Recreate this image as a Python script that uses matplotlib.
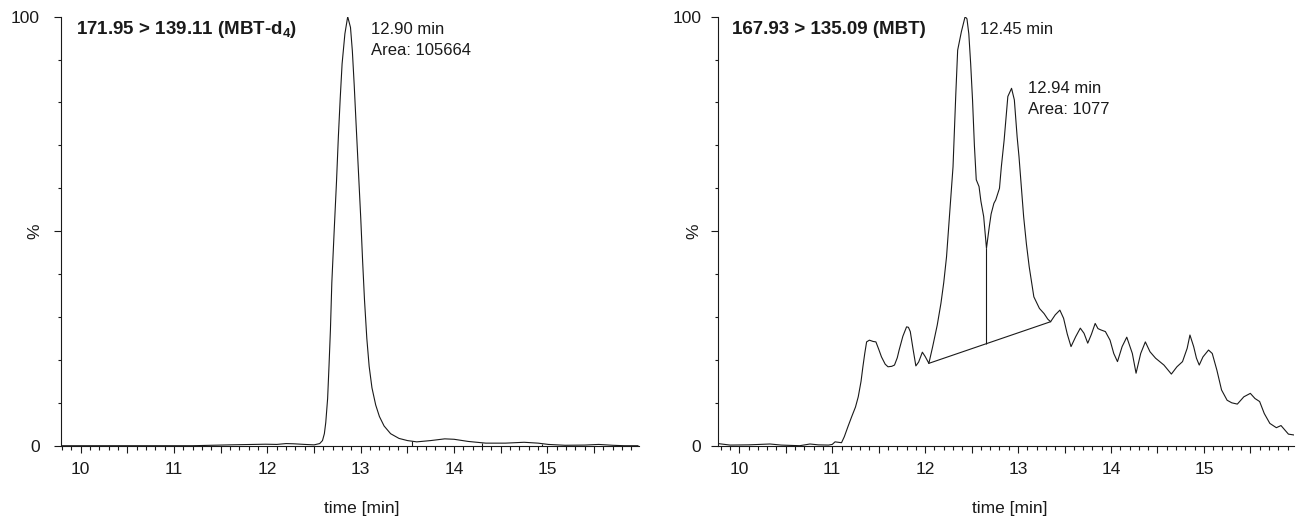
import numpy as np
import matplotlib
matplotlib.use("Agg")
import matplotlib.pyplot as plt
from matplotlib.ticker import MultipleLocator, FixedLocator, FuncFormatter

# =========================
# 0) DADOS (lidos do cromatograma)
# =========================

# MBT-d4 (171.95 > 139.11)
t_mbtd4 = [9.78, 10.5, 11.2, 11.6, 11.98, 12.1, 12.2, 12.28, 12.4, 12.5,
           12.56, 12.59, 12.61, 12.625, 12.645, 12.66, 12.675, 12.69, 12.715, 12.74,
           12.76, 12.78, 12.80, 12.83, 12.86, 12.89, 12.91, 12.93, 12.95, 12.975,
           13.0, 13.02, 13.04, 13.065, 13.09, 13.12, 13.16, 13.20, 13.25, 13.32,
           13.41, 13.5, 13.6, 13.75, 13.9, 14.0, 14.15, 14.34, 14.55, 14.75,
           14.9, 15.01, 15.19, 15.4, 15.55, 15.7, 15.82, 15.97]
v_mbtd4 = [0.0, 0.0, 0.0, 0.2, 0.35, 0.3, 0.5, 0.45, 0.3, 0.2,
           0.5, 1.2, 2.8, 5.4, 11, 18.7, 27, 38, 50, 61.5,
           72, 81, 89, 96, 100, 97.5, 92, 84, 75, 64,
           53, 43, 34, 25, 18.5, 13.5, 9.5, 6.8, 4.6, 2.8,
           1.7, 1.2, 0.9, 1.2, 1.6, 1.5, 1.0, 0.6, 0.6, 0.8,
           0.6, 0.3, 0.1, 0.15, 0.3, 0.1, 0.0, 0.0]

# marcas de integração (MBT-d4)
marcas_t_mbtd4 = [13.55, 14.30, 14.94]
marcas_v_mbtd4 = [1.1, 0.7, 0.5]

# MBT (167.93 > 135.09)
t_mbt = [9.77, 9.9, 10.1, 10.33, 10.45, 10.65, 10.76, 10.85, 10.96, 11.0,
         11.03, 11.07, 11.10, 11.13, 11.17, 11.21, 11.25, 11.28, 11.31, 11.33,
         11.35, 11.37, 11.40, 11.44, 11.47, 11.50, 11.53, 11.57, 11.60, 11.64,
         11.67, 11.70, 11.72, 11.76, 11.80, 11.82, 11.84, 11.87, 11.90, 11.93,
         11.97, 12.0, 12.04, 12.08, 12.13, 12.17, 12.20, 12.23, 12.26, 12.30,
         12.33, 12.35, 12.39, 12.43, 12.45, 12.47, 12.49, 12.51, 12.53, 12.55,
         12.58, 12.60, 12.63, 12.66, 12.69, 12.71, 12.74, 12.76, 12.80, 12.82,
         12.85, 12.89, 12.93, 12.96, 12.99, 13.01, 13.06, 13.09, 13.12, 13.17,
         13.23, 13.28, 13.32, 13.35, 13.40, 13.45, 13.49, 13.53, 13.57, 13.62,
         13.67, 13.71, 13.75, 13.79, 13.83, 13.86, 13.89, 13.94, 13.99, 14.03,
         14.07, 14.12, 14.17, 14.23, 14.27, 14.32, 14.37, 14.42, 14.48, 14.57,
         14.65, 14.71, 14.77, 14.82, 14.85, 14.89, 14.92, 14.95, 14.99, 15.05,
         15.09, 15.14, 15.19, 15.25, 15.30, 15.36, 15.43, 15.50, 15.55, 15.60,
         15.65, 15.71, 15.78, 15.83, 15.91, 15.97]
v_mbt = [0.5, 0.15, 0.2, 0.4, 0.15, 0.0, 0.4, 0.2, 0.15, 0.3,
         0.9, 0.8, 0.7, 2.1, 4.5, 6.8, 9.0, 11.4, 15, 18.4,
         21.5, 24.2, 24.6, 24.3, 24.2, 22.5, 20.7, 19.0, 18.4, 18.5,
         18.8, 20.5, 22.3, 25.5, 27.7, 27.6, 26.6, 22.5, 18.6, 19.5,
         21.8, 20.8, 19.2, 23, 28.1, 33.2, 38, 44, 53, 65,
         82, 92.2, 96.5, 100, 99.5, 96, 89, 80.6, 70, 62,
         60.4, 57, 53.4, 46, 51, 54, 56.5, 57.3, 60, 65,
         71.2, 81.4, 83.3, 80.6, 72, 67.4, 53.4, 47, 41.7, 34.7,
         32, 30.8, 29.5, 28.9, 30.5, 31.6, 29.7, 26, 23.1, 25.4,
         27.4, 26.2, 23.9, 26, 28.5, 27.3, 27, 26.6, 24.6, 21.5,
         19.6, 23.1, 25.3, 21.5, 16.9, 21.5, 24.2, 21.9, 20.4, 18.8,
         16.7, 18.4, 19.6, 22.7, 25.8, 23.1, 20.4, 18.8, 20.7, 22.3,
         21.5, 17.6, 13, 10.6, 10.0, 9.7, 11.4, 12.2, 11, 10.3,
         7.5, 5.2, 4.2, 4.7, 2.7, 2.5]

# linha de base da integração e linha de separação (MBT)
base_t_mbt = [12.04, 13.35]
base_v_mbt = [19.2, 28.9]
corte_t_mbt = 12.66
corte_v_mbt = [23.8, 46]

# =========================
# 1) ESTILO
# =========================

plt.rcParams['font.family'] = ['Liberation Sans', 'DejaVu Sans']
plt.rcParams['mathtext.fontset'] = 'custom'
plt.rcParams['mathtext.rm'] = 'Liberation Sans'
plt.rcParams['mathtext.bf'] = 'Liberation Sans:bold'

COR = '#1a1a1a'
LW = 0.8


def fmt_inteiro(x, pos=None):
    if abs(x - round(x)) < 1e-6:
        return f"{int(round(x))}"
    return ""


def estilo_eixo(ax, xlim, ypad, ylab_x, xlab_x):
    ax.set_xlim(*xlim)
    ax.set_ylim(0, 100)
    for lado in ['top', 'right']:
        ax.spines[lado].set_visible(False)
    for lado in ['left', 'bottom']:
        ax.spines[lado].set_linewidth(LW)
        ax.spines[lado].set_color(COR)

    ax.xaxis.set_major_locator(MultipleLocator(0.5))
    ax.xaxis.set_minor_locator(MultipleLocator(0.1))
    ax.xaxis.set_major_formatter(FuncFormatter(fmt_inteiro))
    ax.tick_params(axis='x', which='major', length=5, width=LW, pad=7,
                   labelsize=12.5, colors=COR)
    ax.tick_params(axis='x', which='minor', length=3, width=LW, colors=COR)

    ax.yaxis.set_major_locator(FixedLocator([0, 50, 100]))
    ax.yaxis.set_major_formatter(FuncFormatter(lambda y, p: {0: '0', 100: '100'}.get(int(round(y)), '')))
    ax.yaxis.set_minor_locator(MultipleLocator(10))
    ax.tick_params(axis='y', which='major', length=5, width=LW, pad=ypad,
                   labelsize=12.5, colors=COR)
    ax.tick_params(axis='y', which='minor', length=2.4, width=LW, colors=COR)

    ax.set_ylabel('%', fontsize=12.5, color=COR)
    ax.yaxis.set_label_coords(ylab_x, 0.5)
    ax.set_xlabel('time [min]', fontsize=12.5, color=COR)
    ax.xaxis.set_label_coords(xlab_x, -0.128)


# =========================
# 2) FIGURA
# =========================

fig = plt.figure(figsize=(13.03, 5.21), dpi=100)
ax1 = fig.add_axes([0.0466, 0.1445, 0.4437, 0.8235])
ax2 = fig.add_axes([0.5510, 0.1445, 0.4421, 0.8235])

# painel esquerdo: MBT-d4
ax1.plot(t_mbtd4, v_mbtd4, color=COR, lw=LW)
ax1.vlines(marcas_t_mbtd4, 0, marcas_v_mbtd4, color=COR, lw=LW)
estilo_eixo(ax1, (9.785, 15.98), 10, -0.032, 0.52)
ax1.text(9.95, 96.9, r'171.95 > 139.11 (MBT-d$_\mathbf{4}$)', fontsize=13.5,
         fontweight='bold', va='center', ha='left', color=COR)
ax1.text(13.11, 97.1, '12.90 min', fontsize=12, va='center', ha='left', color=COR)
ax1.text(13.11, 92.1, 'Area: 105664', fontsize=12, va='center', ha='left', color=COR)

# painel direito: MBT
ax2.plot(t_mbt, v_mbt, color=COR, lw=LW)
ax2.plot(base_t_mbt, base_v_mbt, color=COR, lw=LW)
ax2.vlines(corte_t_mbt, corte_v_mbt[0], corte_v_mbt[1], color=COR, lw=LW)
estilo_eixo(ax2, (9.77, 15.97), 7, -0.028, 0.506)
ax2.text(9.92, 96.9, '167.93 > 135.09 (MBT)', fontsize=13.5,
         fontweight='bold', va='center', ha='left', color=COR)
ax2.text(12.59, 97.1, '12.45 min', fontsize=12, va='center', ha='left', color=COR)
ax2.text(13.11, 83.3, '12.94 min', fontsize=12, va='center', ha='left', color=COR)
ax2.text(13.11, 78.4, 'Area: 1077', fontsize=12, va='center', ha='left', color=COR)

fig.savefig('out.png', dpi=100)
